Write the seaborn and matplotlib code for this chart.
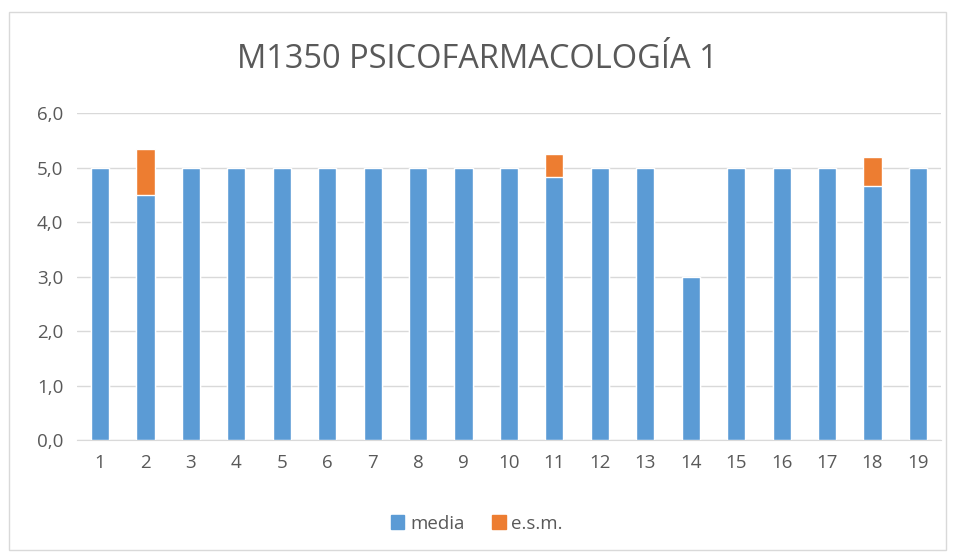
import matplotlib
matplotlib.use("Agg")
import matplotlib.pyplot as plt
import seaborn as sns
import pandas as pd
from matplotlib.patches import Rectangle, Patch
from matplotlib.ticker import FuncFormatter

categories = [str(i) for i in range(1, 20)]
media = [5.0, 4.5, 5.0, 5.0, 5.0, 5.0, 5.0, 5.0, 5.0, 5.0, 4.83, 5.0, 5.0, 3.0, 5.0, 5.0, 5.0, 4.67, 5.0]
esm = [0.0, 0.84, 0.0, 0.0, 0.0, 0.0, 0.0, 0.0, 0.0, 0.0, 0.41, 0.0, 0.0, 0.0, 0.0, 0.0, 0.0, 0.52, 0.0]

df = pd.DataFrame({"cat": categories, "media": media, "esm": esm})
df["total"] = df["media"] + df["esm"]

sns.set_style("white")
plt.rcParams["font.family"] = ["Open Sans", "DejaVu Sans"]
text_color = "#595959"
blue = "#5B9BD5"
orange = "#ED7D31"

fig = plt.figure(figsize=(9.54, 5.57), dpi=100)
ax = fig.add_axes([0.081, 0.21, 0.905, 0.587])

sns.barplot(data=df, x="cat", y="total", color=orange, width=0.4, saturation=1, ax=ax, zorder=3)
sns.barplot(data=df, x="cat", y="media", color=blue, width=0.4, saturation=1, ax=ax, zorder=4)

ax.set_ylim(0, 6)
ax.set_xlim(-0.5, 18.5)
ax.set_yticks([0, 1, 2, 3, 4, 5, 6])
ax.yaxis.set_major_formatter(FuncFormatter(lambda v, p: f"{v:.1f}".replace(".", ",")))
ax.grid(axis="y", color="#D9D9D9", linewidth=1, zorder=0)
ax.set_axisbelow(True)
for s in ["top", "right", "left"]:
    ax.spines[s].set_visible(False)
ax.spines["bottom"].set_color("#D9D9D9")
ax.tick_params(axis="both", length=0, labelsize=13.5, colors=text_color, pad=10)
ax.set_xlabel("")
ax.set_ylabel("")

fig.text(0.5, 0.893, "M1350 PSICOFARMACOLOGÍA 1", ha="center", va="center",
         fontsize=23.5, color=text_color)

handles = [Patch(color=blue, label="media"), Patch(color=orange, label="e.s.m.")]
fig.legend(handles=handles, loc="center", bbox_to_anchor=(0.5, 0.06), ncol=2, frameon=False,
           fontsize=13.5, labelcolor=text_color, handlelength=0.7, handleheight=0.7,
           handletextpad=0.3, columnspacing=1.5)

fig.patches.append(Rectangle((0.009, 0.012), 0.983, 0.967, transform=fig.transFigure,
                             fill=False, edgecolor="#D9D9D9", linewidth=1))

fig.savefig("out.png", dpi=100)
